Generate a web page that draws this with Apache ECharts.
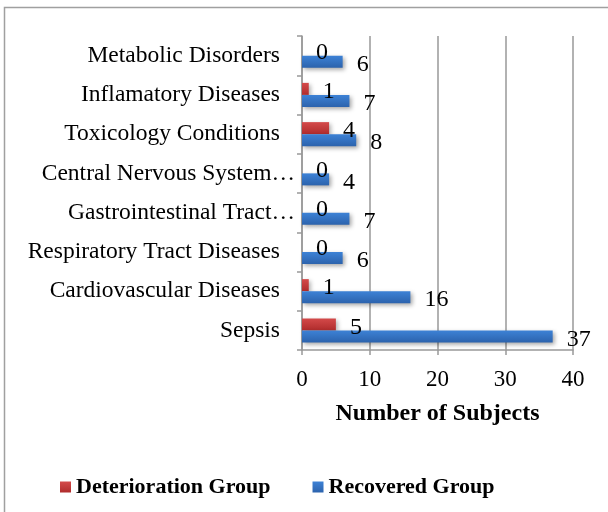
<!DOCTYPE html>
<html><head><meta charset="utf-8">
<script src="https://cdn.jsdelivr.net/npm/echarts@6/dist/echarts.min.js"></script>
<style>html,body{margin:0;padding:0;background:#fff}#c{width:608px;height:512px}</style>
</head><body><div id="c"></div>
<script>
const categories = ["Sepsis","Cardiovascular Diseases","Respiratory Tract Diseases","Gastrointestinal Tract…","Central Nervous System…","Toxicology Conditions","Inflamatory Diseases","Metabolic Disorders"];
const deterioration = [5,1,0,0,0,4,1,0];
const recovered = [37,16,6,7,4,8,7,6];
const xTicks = {min:0,max:40,interval:10};
const FONT = '"Liberation Serif","Times New Roman",serif';

function grad(top, bottom){
  return new echarts.graphic.LinearGradient(0,0,0,1,[{offset:0,color:top},{offset:1,color:bottom}]);
}
const chart = echarts.init(document.getElementById('c'));
chart.setOption({
  animation:false,
  backgroundColor:'#fff',
  graphic:[{type:'rect',shape:{x:4.5,y:7.5,width:700,height:700},style:{fill:'none',stroke:'#a0a0a0',lineWidth:1.5},silent:true}],
  grid:{left:302,right:35,top:36,bottom:162,containLabel:false},
  legend:{
    data:['Deterioration Group','Recovered Group'],
    bottom:9, left:55, itemWidth:11, itemHeight:11, itemGap:42, icon:'rect',
    textStyle:{fontFamily:FONT,fontWeight:'bold',fontSize:22,color:'#000'}
  },
  xAxis:{
    type:'value', min:xTicks.min, max:xTicks.max, interval:xTicks.interval,
    name:'Number of Subjects', nameLocation:'middle', nameGap:52,
    nameTextStyle:{fontFamily:FONT,fontWeight:'bold',fontSize:24,color:'#000'},
    axisLine:{show:true,lineStyle:{color:'#999',width:1.5}},
    axisTick:{show:true,length:5,lineStyle:{color:'#999',width:1.5}},
    axisLabel:{fontFamily:FONT,fontSize:23,color:'#000',margin:18},
    splitLine:{show:true,lineStyle:{color:'#999',width:1.5}}
  },
  yAxis:{
    type:'category', data:categories,
    axisLine:{show:true,lineStyle:{color:'#999',width:1.5}},
    axisTick:{show:true,length:5,inside:false,lineStyle:{color:'#999',width:1.5}},
    axisLabel:{
      margin:7, fontFamily:FONT, fontSize:23.5, color:'#000',
      formatter:function(v){ return v.endsWith('…') ? '{t|'+v+'}' : '{n|'+v+'}'; },
      rich:{
        n:{fontFamily:FONT,fontSize:23.5,color:'#000',padding:[0,15,0,0]},
        t:{fontFamily:FONT,fontSize:23.5,color:'#000'}
      }
    },
    splitLine:{show:false}
  },
  series:[
    {
      name:'Deterioration Group', type:'bar', data:deterioration, barWidth:12, barGap:'0%',
      itemStyle:{color:grad('#d44a4a','#b02c2c'),shadowColor:'rgba(0,0,0,0.3)',shadowBlur:4,shadowOffsetX:2,shadowOffsetY:2},
      label:{show:true,position:'right',distance:14,offset:[0,3],fontFamily:FONT,fontSize:24,color:'#000'}
    },
    {
      name:'Recovered Group', type:'bar', data:recovered, barWidth:12, barGap:'0%',
      itemStyle:{color:grad('#3d82d6','#2c63ad'),shadowColor:'rgba(0,0,0,0.35)',shadowBlur:4,shadowOffsetX:2,shadowOffsetY:2},
      label:{show:true,position:'right',distance:14,offset:[0,3],fontFamily:FONT,fontSize:24,color:'#000'}
    }
  ]
});
</script></body></html>
